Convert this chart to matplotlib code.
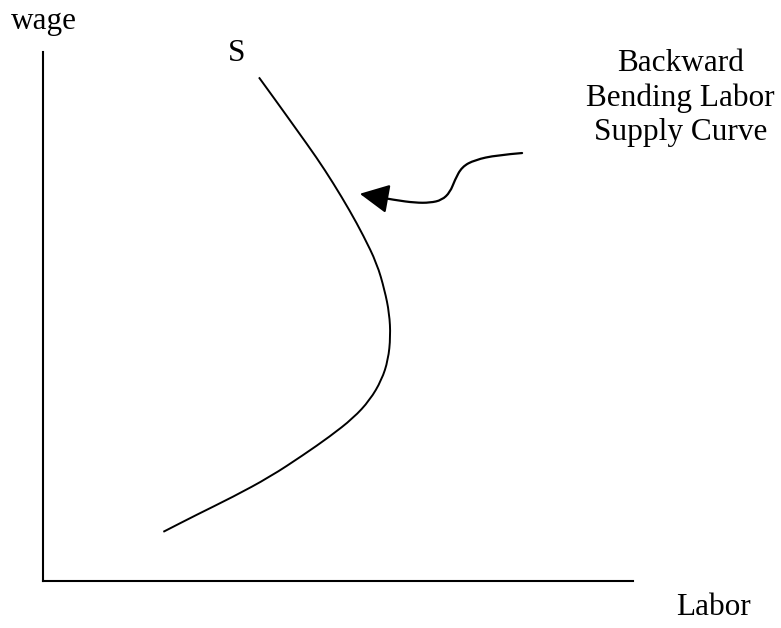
import matplotlib.pyplot as plt
from matplotlib.patches import FancyArrowPatch, PathPatch
from matplotlib.path import Path

plt.rcParams['font.family'] = ['Liberation Serif', 'DejaVu Serif']

# supply curve (labor, wage), axes run 0..100
supply_labor = [36.6, 39.6, 43.0, 46.4, 49.2, 52.0, 54.3, 56.6, 57.9, 58.7, 58.9,
                58.5, 57.4, 55.4, 52.6, 48.6, 44.1, 38.5, 32.2, 26.0, 20.4]
supply_wage = [95.2, 90.6, 85.3, 80.0, 75.2, 70.0, 65.3, 60.0, 55.0, 50.6, 46.2,
               41.8, 38.0, 34.2, 30.8, 27.3, 23.8, 19.7, 15.9, 12.5, 9.3]

# squiggly pointer from the label to the curve
arrow_x = [81.2, 76.9, 73.2, 71.0, 69.8, 69.0, 67.6, 65.6, 63.1, 59.7, 53.7]
arrow_y = [80.9, 80.5, 79.6, 78.3, 75.8, 73.5, 72.0, 71.5, 71.5, 72.0, 73.2]

curve_label = "Backward\nBending Labor\nSupply Curve"


def smooth_path(xs, ys):
    # quadratic bezier through midpoints, so the line has no corners
    pts = list(zip(xs, ys))
    verts = [pts[0]]
    codes = [Path.MOVETO]
    for i in range(1, len(pts) - 1):
        mid = ((pts[i][0] + pts[i + 1][0]) / 2, (pts[i][1] + pts[i + 1][1]) / 2)
        verts += [pts[i], mid]
        codes += [Path.CURVE3, Path.CURVE3]
    verts.append(pts[-1])
    codes.append(Path.LINETO)
    return Path(verts, codes)


fig = plt.figure(figsize=(7.81, 6.28), dpi=100)
ax = fig.add_axes([43 / 781, 47 / 628, 590 / 781, 529 / 628])
ax.set_xlim(0, 100)
ax.set_ylim(0, 100)
for side in ["top", "right"]:
    ax.spines[side].set_visible(False)
for side in ["left", "bottom"]:
    ax.spines[side].set_linewidth(1.5)
ax.set_xticks([])
ax.set_yticks([])

ax.add_patch(PathPatch(smooth_path(supply_labor, supply_wage), fill=False,
                       edgecolor="black", lw=1.4, transform=ax.transData))

arrow = FancyArrowPatch(path=smooth_path(arrow_x, arrow_y),
                        arrowstyle="-|>,head_length=0.9,head_width=0.45",
                        mutation_scale=20, color="black", lw=1.6, transform=ax.transData)
ax.add_patch(arrow)

fs = 22.5
ax.text(0.2, 105.7, "wage", ha="center", va="center", fontsize=fs, clip_on=False)
ax.text(32.9, 99.8, "S", ha="center", va="center", fontsize=fs, clip_on=False)
ax.text(108.0, 91.3, curve_label, ha="center", va="center", fontsize=fs,
        linespacing=1.25, clip_on=False)
ax.text(113.7, -5.1, "Labor", ha="center", va="center", fontsize=fs, clip_on=False)

fig.savefig("out.png", dpi=100)
